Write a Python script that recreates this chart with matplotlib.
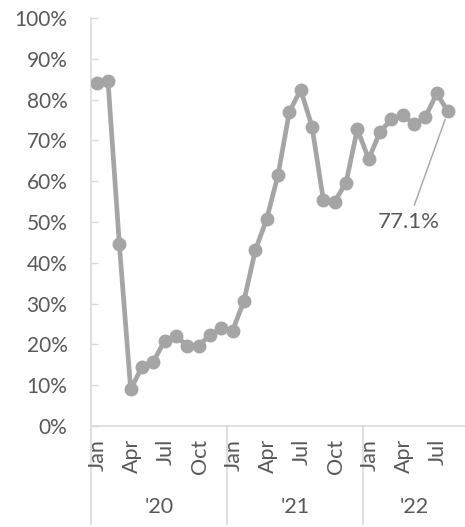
import matplotlib
matplotlib.use('Agg')
import matplotlib.pyplot as plt

plt.rcParams['font.family'] = ['Lato', 'DejaVu Sans']

# monthly share, Jan '20 .. Aug '22 (Sep '22 slot left empty)
values = [84.0, 84.6, 44.6, 9.0, 14.5, 15.8, 20.9, 22.0, 19.7, 19.7, 22.3, 23.9,
          23.4, 30.7, 43.1, 50.7, 61.5, 77.0, 82.4, 73.4, 55.4, 55.0, 59.6, 72.8,
          65.4, 72.1, 75.2, 76.2, 74.0, 75.7, 81.5, 77.1]
months = ['Jan', 'Feb', 'Mar', 'Apr', 'May', 'Jun',
          'Jul', 'Aug', 'Sep', 'Oct', 'Nov', 'Dec']
years = ["'20", "'21", "'22"]
n_slots = 33   # categories on the axis, last one has no data
label_text = '77.1%'

LINE = '#A5A5A5'
TEXT = '#595959'
AXIS = '#D9D9D9'

fig = plt.figure(figsize=(4.65, 5.27), dpi=100, facecolor='white')
W, H = 465, 527
left, right, top, bottom = 91, 465, 18, 426
ax = fig.add_axes([left / W, 1 - bottom / H, (right - left) / W, (bottom - top) / H])

x = list(range(len(values)))
ax.plot(x, values, color=LINE, lw=3.4, marker='o', ms=9, mec=LINE, mfc=LINE,
        solid_joinstyle='round', zorder=3)

ax.set_xlim(-0.5, n_slots - 0.5)
ax.set_ylim(0, 100)
ax.set_yticks(range(0, 101, 10))
ax.set_yticklabels([f'{v}%' for v in range(0, 101, 10)], fontsize=15, color=TEXT)
ax.tick_params(axis='y', direction='in', length=5, width=1, color=AXIS, pad=17)
ax.set_xticks([])

for s in ['top', 'right']:
    ax.spines[s].set_visible(False)
for s in ['left', 'bottom']:
    ax.spines[s].set_color(AXIS)
    ax.spines[s].set_linewidth(1.2)

# two-level category axis
trans = ax.get_xaxis_transform()
px = 1 / (bottom - top)
for i in range(0, n_slots, 3):
    if i >= len(values) and i % 12 != 0:
        continue
    ax.text(i + 0.1, -13 * px, months[i % 12], transform=trans, rotation=90,
            ha='center', va='top', fontsize=15.5, color=TEXT, clip_on=False)
for k, yr in enumerate(years):
    start = k * 12 - 0.5
    end = min(start + 12, n_slots - 0.5)
    ax.text((start + end) / 2, -81 * px, yr, transform=trans, ha='center',
            va='center', fontsize=15.5, color=TEXT, clip_on=False)
    ax.plot([start, start], [0, -98 * px], transform=trans, color=AXIS,
            lw=1.2, clip_on=False)

# data label for last point
ax.annotate(label_text, xy=(x[-1], values[-1]), xytext=(27.5, 50),
            textcoords='data', ha='center', va='center', fontsize=16, color=TEXT,
            arrowprops=dict(arrowstyle='-', color=LINE, lw=1, shrinkA=3, shrinkB=6))

fig.savefig('out.png', dpi=100, facecolor='white')
